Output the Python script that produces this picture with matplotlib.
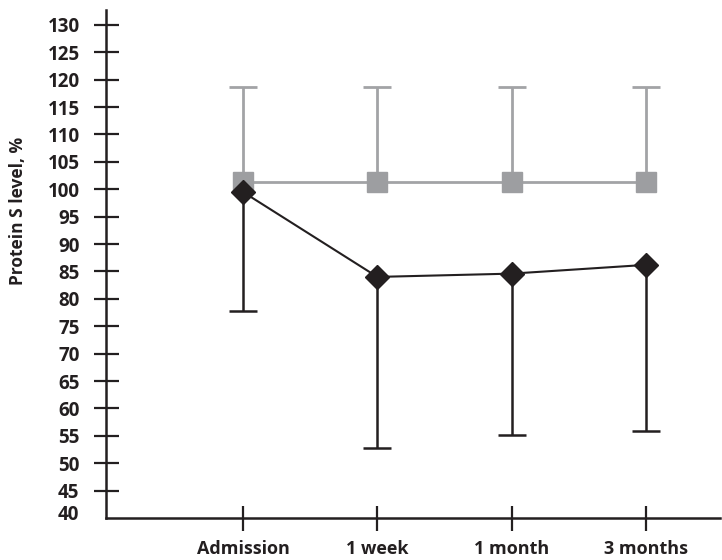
import numpy as np
import matplotlib.pyplot as plt

plt.rcParams['font.family'] = ['Open Sans', 'DejaVu Sans']

# Protein S level over follow-up
timepoints = ["Admission", "1 week", "1 month", "3 months"]
reference_mean = [101.3, 101.3, 101.3, 101.3]
reference_upper = [118.7, 118.7, 118.7, 118.7]
patient_mean = [99.5, 84.0, 84.6, 86.2]
patient_lower = [77.8, 52.8, 55.2, 55.8]

DARK = "#231f20"
GREY = "#a2a3a6"

x = np.arange(1, len(timepoints) + 1)
ref_mean = np.array(reference_mean)
ref_up = np.array(reference_upper)
pat_mean = np.array(patient_mean)
pat_low = np.array(patient_lower)

fig = plt.figure(figsize=(7.22, 5.6), dpi=100)
ax = fig.add_axes([0.1468, 0.075, 0.8504, 0.907])

# reference group: grey squares with one-sided upper bars
ax.vlines(x, ref_mean, ref_up, color=GREY, lw=2, zorder=1)
ax.plot(x, ref_up, ls="none", marker="_", ms=20, mew=2, color=GREY, zorder=1)
ax.plot(x, ref_mean, color=GREY, lw=2, marker="s", ms=14,
        mfc="#9d9ea1", mec="#9d9ea1", zorder=2)

# patients: black diamonds with one-sided lower bars
ax.vlines(x, pat_low, pat_mean, color=DARK, lw=1.8, zorder=3)
ax.plot(x, pat_low, ls="none", marker="_", ms=20, mew=1.8, color=DARK, zorder=3)
ax.plot(x, pat_mean, color=DARK, lw=1.5, marker="D", ms=12,
        mfc=DARK, mec=DARK, zorder=4)

ax.set_xlim(-0.02, 4.55)
ax.set_ylim(40, 132.7)
ax.set_yticks(np.arange(45, 131, 5))
ax.set_xticks(x)
ax.set_xticklabels(timepoints)

for side in ["top", "right"]:
    ax.spines[side].set_visible(False)
for side in ["left", "bottom"]:
    ax.spines[side].set_color(DARK)
    ax.spines[side].set_linewidth(1.8)

ax.tick_params(axis="both", direction="inout", length=18, width=1.6,
               color=DARK, labelcolor=DARK)
ax.tick_params(axis="x", pad=7, labelsize=13)
ax.tick_params(axis="y", pad=10, labelsize=13.5)
for lab in ax.get_xticklabels() + ax.get_yticklabels():
    lab.set_fontweight("bold")

# 40 sits at the corner, so label it by hand
fig.text(79 / 722, 1 - 515 / 560, "40", ha="right", va="center",
         fontsize=13.5, fontweight="bold", color=DARK)

fig.text(18 / 722, 1 - 211 / 560, "Protein S level, %", rotation=90,
         ha="center", va="center", fontsize=12.5, fontweight="bold", color=DARK)

fig.savefig("out.png", dpi=100)
